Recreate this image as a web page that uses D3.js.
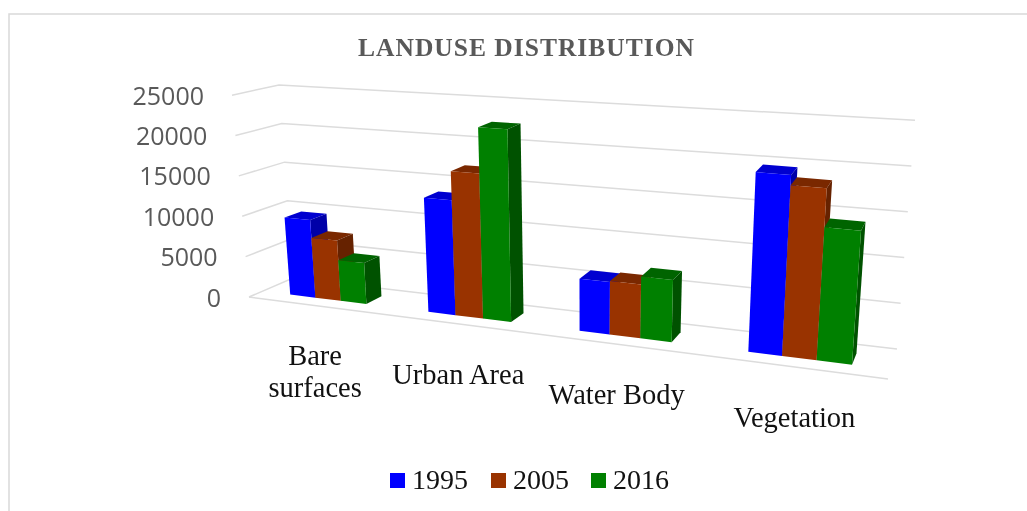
<!DOCTYPE html>
<html>
<head>
<meta charset="utf-8">
<script src="https://cdn.jsdelivr.net/npm/d3@7"></script>
<style>
  html, body { margin: 0; padding: 0; background: #fff; }
  svg { display: block; filter: blur(0.4px); }
</style>
</head>
<body>
<div id="root"></div>
<script>
// values
var categories = ["Bare surfaces", "Urban Area", "Water Body", "Vegetation"]
var years = ["1995", "2005", "2016"]
var values1995 = [9550, 13500, 5900, 19600]
var values2005 = [7350, 16900, 6000, 18500]
var values2016 = [4950, 22300, 6900, 14300]
var yTicks = [0, 5000, 10000, 15000, 20000, 25000]
var seriesValues = [values1995, values2005, values2016]

var width = 1027, height = 511

var colors = d3.scaleOrdinal().domain(years).range(["#0000ff", "#993300", "#008000"])
var sideColors = d3.scaleOrdinal().domain(years).range(["#0000a8", "#662200", "#005200"])
var topColors = d3.scaleOrdinal().domain(years).range(["#0000d0", "#7a2800", "#006400"])

// floor of the 3d box as it lands on the screen
// fl = front left, bl = back left, br = back right, fr = front right
var floorQuad = { fl: [249, 297], fr: [888, 379], br: [897, 349], bl: [293, 278] }
// verticals all run into this point far under the picture
var vanish = [586, 4302]
// how much a full height column grows away from that point
var growthU = d3.scaleLinear().domain([0, 1]).range([0.0504, 0.0608])
var growthV = d3.scaleLinear().domain([0, 1]).range([1, 0.952])

// unit square -> quad, so that bars get smaller towards the back left
function makeHomography(q) {
  var x0 = q.fl[0], y0 = q.fl[1], x1 = q.fr[0], y1 = q.fr[1]
  var x2 = q.br[0], y2 = q.br[1], x3 = q.bl[0], y3 = q.bl[1]
  var dx1 = x1 - x2, dx2 = x3 - x2, sx = x0 - x1 + x2 - x3
  var dy1 = y1 - y2, dy2 = y3 - y2, sy = y0 - y1 + y2 - y3
  var den = dx1 * dy2 - dx2 * dy1
  var g = (sx * dy2 - dx2 * sy) / den
  var h = (dx1 * sy - sx * dy1) / den
  var a = x1 - x0 + g * x1, b = x3 - x0 + h * x3
  var d = y1 - y0 + g * y1, e = y3 - y0 + h * y3
  return function(u, v) {
    var w = g * u + h * v + 1
    return [(a * u + b * v + x0) / w, (d * u + e * v + y0) / w]
  }
}
var floorH = makeHomography(floorQuad)

var xBand = d3.scaleBand().domain(categories).range([0, 1]).paddingInner(0.44).paddingOuter(0.2)
var xInner = d3.scaleBand().domain(years).range([0, xBand.bandwidth()])
// the original squeezes the middle a little less than the plain homography does
var xWarp = d3.scalePow().exponent(0.97).domain([0, 1]).range([0, 1])
var yScale = d3.scaleLinear().domain([0, 25000]).range([0, 1])
var depth = d3.scaleLinear().domain([0, 1]).range([0.3, 0.68])

function project(u, v, val) {
  var a = floorH(u, v), s = 1 + growthU(u) * growthV(v) * yScale(val)
  return [vanish[0] + (a[0] - vanish[0]) * s, vanish[1] + (a[1] - vanish[1]) * s]
}

var line = d3.line()

var svg = d3.select("#root").append("svg")
  .attr("width", width)
  .attr("height", height)
  .style("font-family", "'Liberation Serif', serif")

// chart frame, cut off by the picture on the right and at the bottom
svg.append("path")
  .attr("d", line([[9, height], [9, 14], [width, 14]]))
  .attr("fill", "none")
  .attr("stroke", "#d9d9d9")
  .attr("stroke-width", 1.5)

svg.append("text")
  .attr("x", 526).attr("y", 56)
  .attr("text-anchor", "middle")
  .attr("font-size", 25.5)
  .attr("font-weight", "bold")
  .attr("fill", "#595959")
  .attr("textLength", 336)
  .text("LANDUSE DISTRIBUTION")

// gridlines on the side wall and back wall
svg.append("g").selectAll("path")
  .data(yTicks)
  .enter().append("path")
  .attr("d", function(d) { return line([project(0, 0, d), project(0, 1, d), project(1, 1, d)]) })
  .attr("fill", "none")
  .attr("stroke", "#dcdcdc")
  .attr("stroke-width", 1.5)

// front edge of the floor
svg.append("path")
  .attr("d", line([project(0, 0, 0), project(1, 0, 0)]))
  .attr("fill", "none")
  .attr("stroke", "#dcdcdc")
  .attr("stroke-width", 1.5)

svg.append("g").selectAll("text")
  .data(yTicks)
  .enter().append("text")
  .attr("x", function(d) { return project(0, 0, d)[0] - 28 })
  .attr("y", function(d) { return project(0, 0, d)[1] + 9.5 })
  .attr("text-anchor", "end")
  .attr("font-family", "'Open Sans', sans-serif")
  .attr("font-size", 25)
  .attr("fill", "#595959")
  .text(function(d) { return d })

// bars, one after the other so the later ones hide the earlier sides
var bars = []
categories.forEach(function(cat, i) {
  years.forEach(function(yr, j) {
    bars.push({ cat: cat, year: yr, value: seriesValues[j][i] })
  })
})

function barFaces(d) {
  var start = xBand(d.cat) + xInner(d.year)
  var u0 = xWarp(start), u1 = xWarp(start + xInner.bandwidth())
  var v0 = depth(0), v1 = depth(1)
  return {
    top: [project(u0, v0, d.value), project(u1, v0, d.value), project(u1, v1, d.value), project(u0, v1, d.value)],
    side: [project(u1, v0, 0), project(u1, v1, 0), project(u1, v1, d.value), project(u1, v0, d.value)],
    front: [project(u0, v0, 0), project(u1, v0, 0), project(u1, v0, d.value), project(u0, v0, d.value)]
  }
}

var barG = svg.append("g").selectAll("g")
  .data(bars)
  .enter().append("g")

barG.append("path")
  .attr("d", function(d) { return line(barFaces(d).top) + "Z" })
  .attr("fill", function(d) { return topColors(d.year) })
barG.append("path")
  .attr("d", function(d) { return line(barFaces(d).side) + "Z" })
  .attr("fill", function(d) { return sideColors(d.year) })
barG.append("path")
  .attr("d", function(d) { return line(barFaces(d).front) + "Z" })
  .attr("fill", function(d) { return colors(d.year) })

// category labels hang under the front edge
var catLabels = svg.append("g").selectAll("text")
  .data(categories)
  .enter().append("text")
  .attr("text-anchor", "middle")
  .attr("font-size", 28.5)
  .attr("fill", "#111")
  .attr("transform", function(d) {
    var p = project(xWarp(xBand(d) + xBand.bandwidth() / 2), 0, 0)
    return "translate(" + p[0] + " " + (p[1] + 60) + ")"
  })

catLabels.each(function(d) {
  var words = d === "Bare surfaces" ? d.split(" ") : [d]
  d3.select(this).selectAll("tspan")
    .data(words)
    .enter().append("tspan")
    .attr("x", 0)
    .attr("dy", function(w, i) { return i ? 32 : 0 })
    .text(function(w) { return w })
})

// legend
var legendX = d3.scaleOrdinal().domain(years).range([390, 491, 591])
var legend = svg.append("g").selectAll("g")
  .data(years)
  .enter().append("g")
  .attr("transform", function(d) { return "translate(" + legendX(d) + " 473)" })

legend.append("rect")
  .attr("width", 15)
  .attr("height", 15)
  .attr("fill", function(d) { return colors(d) })

legend.append("text")
  .attr("x", 22)
  .attr("y", 16)
  .attr("font-size", 28)
  .attr("fill", "#111")
  .text(function(d) { return d })
</script>
</body>
</html>
